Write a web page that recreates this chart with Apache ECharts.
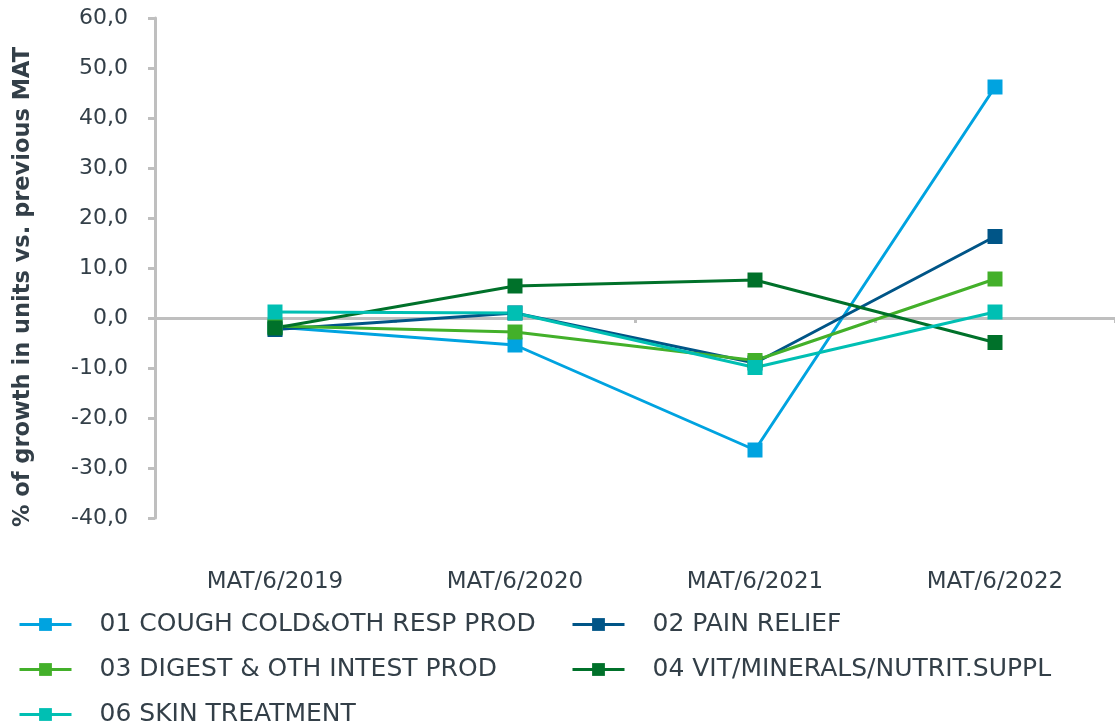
<!DOCTYPE html>
<html>
<head>
<meta charset="utf-8">
<script src="https://cdn.jsdelivr.net/npm/echarts@6/dist/echarts.min.js"></script>
<style>
  html, body { margin: 0; padding: 0; background: #fff; }
  #chart { width: 1115px; height: 728px; }
</style>
</head>
<body>
<div id="chart"></div>
<script>
var dom = document.getElementById('chart');
var myChart = echarts.init(dom, null, { renderer: 'canvas' });

// categories
const periods = ['MAT/6/2019', 'MAT/6/2020', 'MAT/6/2021', 'MAT/6/2022'];

// series values (% growth in units vs. previous MAT)
const coughCold = [-1.8, -5.4, -26.4, 46.2];
const painRelief = [-2.3, 1.0, -9.0, 16.3];
const digest = [-1.6, -2.8, -8.5, 7.8];
const vitMinerals = [-2.0, 6.4, 7.6, -4.9];
const skinTreatment = [1.2, 1.0, -9.9, 1.2];

const seriesNames = [
    '01 COUGH COLD&OTH RESP PROD',
    '02 PAIN RELIEF',
    '03 DIGEST & OTH INTEST PROD',
    '04 VIT/MINERALS/NUTRIT.SUPPL',
    '06 SKIN TREATMENT'
];
const seriesData = [coughCold, painRelief, digest, vitMinerals, skinTreatment];
const seriesColors = ['#00A3E0', '#005587', '#43B02A', '#00712A', '#00BFB3'];

const textColor = '#333F48';
const axisColor = '#BFBFBF';
const fontFamily = 'DejaVu Sans, sans-serif';

const series = seriesNames.map(function(name, i) {
    return {
        name: name,
        type: 'line',
        data: seriesData[i],
        symbol: 'rect',
        symbolSize: 15,
        lineStyle: { color: seriesColors[i], width: 3 },
        itemStyle: { color: seriesColors[i] },
        xAxisIndex: 0,
        animation: false
    };
});

const legendText = {
    color: textColor,
    fontSize: 25,
    fontFamily: fontFamily,
    lineHeight: 24,
    padding: [0, 0, 0, 23]
};

const legendBase = {
    top: 612,
    orient: 'vertical',
    padding: 0,
    height: 200,
    itemWidth: 52,
    itemHeight: 16,
    itemGap: 20,
    lineStyle: { width: 3 },
    textStyle: legendText
};

var option = {
    backgroundColor: '#fff',
    grid: {
        left: 155,
        right: 0,
        top: 18,
        bottom: 210,
        containLabel: false
    },
    legend: [
        Object.assign({ left: 18, data: [seriesNames[0], seriesNames[2], seriesNames[4]] }, legendBase),
        Object.assign({ left: 571, data: [seriesNames[1], seriesNames[3]] }, legendBase)
    ],
    xAxis: [{
            // labels at the bottom
            type: 'category',
            data: periods,
            position: 'bottom',
            axisLine: { show: false, onZero: false },
            axisTick: { show: false },
            axisLabel: {
                margin: 53,
                color: textColor,
                fontSize: 23,
                fontFamily: fontFamily
            }
        },
        {
            // line through zero
            type: 'category',
            data: periods,
            position: 'bottom',
            axisLine: {
                onZero: true,
                lineStyle: { color: axisColor, width: 3 }
            },
            axisTick: {
                show: true,
                inside: false,
                length: 5,
                lineStyle: { color: axisColor, width: 3 }
            },
            axisLabel: { show: false }
        }
    ],
    yAxis: {
        type: 'value',
        min: -40,
        max: 60,
        interval: 10,
        name: '% of growth in units vs. previous MAT',
        nameLocation: 'middle',
        nameGap: 120,
        nameTextStyle: {
            color: textColor,
            fontSize: 22.5,
            fontWeight: 'bold',
            fontFamily: fontFamily,
            padding: [0, 38, 0, 0]
        },
        axisLine: {
            show: true,
            lineStyle: { color: axisColor, width: 3 }
        },
        axisTick: {
            show: true,
            length: 7,
            lineStyle: { color: axisColor, width: 3 }
        },
        splitLine: { show: false },
        axisLabel: {
            margin: 27,
            color: textColor,
            fontSize: 22,
            fontFamily: fontFamily,
            formatter: function(v) {
                return v.toFixed(1).replace('.', ',');
            }
        }
    },
    series: series
};

myChart.setOption(option);
</script>
</body>
</html>
